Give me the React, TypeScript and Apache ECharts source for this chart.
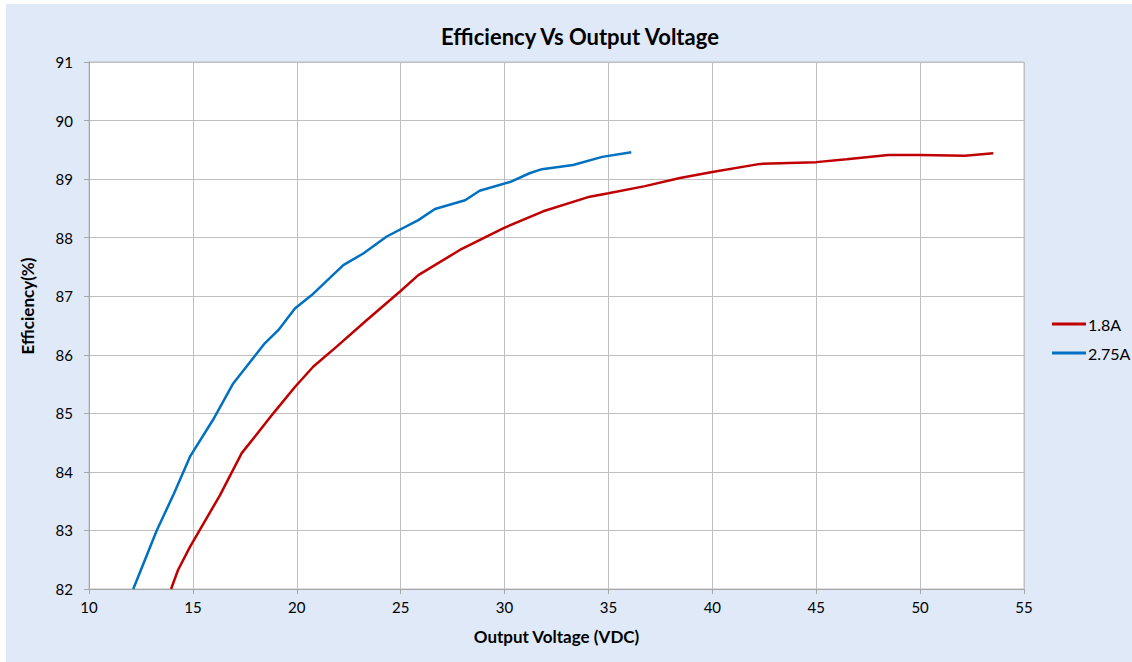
import React, { useEffect, useRef } from "react";
import * as echarts from "echarts";

const xTicks = [10, 15, 20, 25, 30, 35, 40, 45, 50, 55];
const yTicks = [82, 83, 84, 85, 86, 87, 88, 89, 90, 91];

const series18A: [number, number][] = [
  [13.95, 82.0], [14.28, 82.32], [14.86, 82.72], [16.3, 83.6], [17.35, 84.32],
  [18.87, 85.0], [19.91, 85.45], [20.8, 85.8], [21.92, 86.14], [23.36, 86.59],
  [24.97, 87.08], [25.85, 87.36], [27.85, 87.79], [29.93, 88.16], [31.86, 88.45],
  [34.1, 88.7], [35.0, 88.76], [36.76, 88.88], [38.44, 89.02], [40.0, 89.12],
  [42.3, 89.26], [45.0, 89.29], [46.46, 89.34], [48.47, 89.41], [50.0, 89.41],
  [52.16, 89.4], [53.52, 89.44],
];

const series275A: [number, number][] = [
  [12.13, 82.0], [13.26, 83.0], [14.09, 83.63], [14.86, 84.26], [15.97, 84.89],
  [16.94, 85.51], [18.47, 86.2], [19.11, 86.42], [19.91, 86.79], [20.72, 87.02],
  [22.24, 87.53], [23.2, 87.73], [24.33, 88.02], [25.85, 88.3], [26.65, 88.49],
  [28.1, 88.64], [28.8, 88.8], [30.26, 88.95], [31.2, 89.1], [31.8, 89.17],
  [33.3, 89.24], [34.7, 89.38], [36.1, 89.46],
];

const FONT = "Lato, 'Open Sans', sans-serif";

export default function App() {
  const ref = useRef<HTMLDivElement>(null);
  useEffect(() => {
    if (!ref.current) return;
    const chart = echarts.init(ref.current, undefined, { renderer: "svg" });
    chart.setOption({
      animation: false,
      backgroundColor: "#ffffff",
      textStyle: { fontFamily: FONT },
      graphic: [
        {
          type: "rect",
          z: -10,
          shape: { x: 6, y: 4, width: 1126, height: 658 },
          style: { fill: "#dfe9f8" },
          silent: true,
        },
        {
          type: "text",
          x: 27,
          y: 306,
          rotation: Math.PI / 2,
          style: {
            text: "Efficiency(%)",
            fontFamily: FONT,
            fontSize: 17,
            fontWeight: "bold",
            fill: "#000",
            align: "center",
            verticalAlign: "middle",
          },
          silent: true,
        },
      ],
      title: {
        text: "Efficiency Vs Output Voltage",
        left: 575,
        textAlign: "center",
        top: 20,
        textStyle: { fontFamily: FONT, fontSize: 22, fontWeight: "bold", color: "#000" },
      },
      legend: {
        orient: "vertical",
        left: 1047,
        top: 311,
        itemWidth: 34,
        itemHeight: 3,
        itemGap: 13,
        icon: "rect",
        textStyle: { fontFamily: FONT, fontSize: 16, color: "#000", padding: [0, 0, 0, -3] },
        data: ["1.8A", "2.75A"],
      },
      grid: {
        left: 89,
        right: 108,
        top: 62,
        bottom: 73,
        show: true,
        backgroundColor: "#ffffff",
        borderColor: "#bfbfbf",
        borderWidth: 1,
      },
      xAxis: {
        type: "value",
        min: xTicks[0],
        max: xTicks[xTicks.length - 1],
        interval: xTicks[1] - xTicks[0],
        name: "Output Voltage (VDC)",
        nameLocation: "middle",
        nameGap: 39,
        nameTextStyle: { fontFamily: FONT, fontSize: 17, fontWeight: "bold", color: "#000" },
        axisLine: { show: true, lineStyle: { color: "#a6a6a6", width: 1 } },
        axisTick: { show: true, length: 5, lineStyle: { color: "#a6a6a6" } },
        axisLabel: { fontFamily: FONT, fontSize: 15, color: "#000", margin: 10 },
        splitLine: { show: true, lineStyle: { color: "#bfbfbf", width: 1 } },
      },
      yAxis: {
        type: "value",
        min: yTicks[0],
        max: yTicks[yTicks.length - 1],
        interval: yTicks[1] - yTicks[0],
        axisLine: { show: true, lineStyle: { color: "#a6a6a6", width: 1 } },
        axisTick: { show: true, length: 5, lineStyle: { color: "#a6a6a6" } },
        axisLabel: { fontFamily: FONT, fontSize: 15, color: "#000", margin: 16 },
        splitLine: { show: true, lineStyle: { color: "#bfbfbf", width: 1 } },
      },
      series: [
        {
          name: "1.8A",
          type: "line",
          data: series18A,
          showSymbol: false,
          symbol: "none",
          color: "#c00000",
          lineStyle: { color: "#c00000", width: 2.5 },
        },
        {
          name: "2.75A",
          type: "line",
          data: series275A,
          showSymbol: false,
          symbol: "none",
          color: "#0070c0",
          lineStyle: { color: "#0070c0", width: 2.5 },
        },
      ],
    });
    return () => chart.dispose();
  }, []);
  return (
    <div
      ref={ref}
      style={{ position: "fixed", left: 0, top: 0, width: 1132, height: 662 }}
    />
  );
}
